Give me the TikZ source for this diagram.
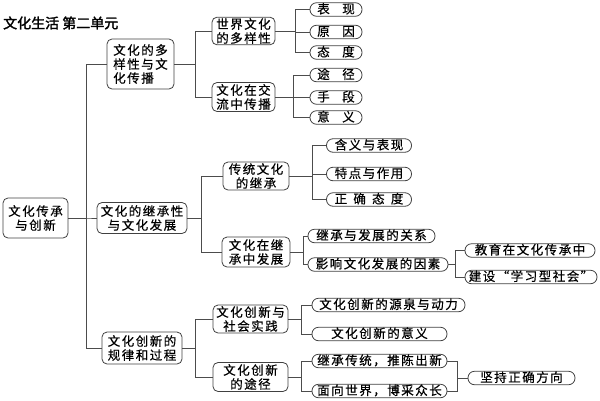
\documentclass[tikz,border=0pt]{standalone}
\usepackage{fontspec}
\newfontfamily\cjk[FakeBold=0.6,LetterSpace=12]{Noto Sans CJK SC}
\newfontfamily\cjkbold[FakeBold=2]{Noto Sans CJK SC}

\begin{document}
\begin{tikzpicture}[x=1pt,y=-1pt,
  every node/.append style={font=\cjk\fontsize{12.5}{14}\selectfont},
  box/.style={draw=black!75,line width=0.8pt,rounded corners=5pt,align=center,inner sep=1pt},
  leaf/.style={draw=black!75,line width=0.8pt,rounded corners=6.5pt,inner xsep=2pt,inner ysep=0pt,
    minimum height=13.5pt,text height=9.5pt,text depth=1.5pt},
  link/.style={draw=black!70,line width=0.8pt}]
  \useasboundingbox (0,0) rectangle (600,400);
  \node[font=\cjkbold\fontsize{14}{16}\selectfont,anchor=west,inner sep=0pt] (title) at (3,23) {文化生活 第二单元};

  \node[box,minimum width=65,minimum height=40] (root) at (35.5,218) {文化传承\\与创新};

  \node[box,align=left,minimum width=67,minimum height=50] (dyx) at (140.5,64) {文化的多\\样性与文\\化传播};
  \node[box,minimum width=90,minimum height=31] (jcx) at (142,218) {文化的继承性\\与文化发展};
  \node[box,minimum width=80,minimum height=32] (cxgl) at (142,348) {文化创新的\\规律和过程};

  \node[box,minimum width=63,minimum height=27] (sjwh) at (243.5,31) {世界文化\\的多样性};
  \node[box,minimum width=63,minimum height=29] (jlcb) at (243.5,97) {文化在交\\流中传播};
  \node[box,minimum width=66,minimum height=28] (ctwh) at (256,176) {传统文化\\的继承};
  \node[box,minimum width=68,minimum height=30] (jczfz) at (256,252) {文化在继\\承中发展};
  \node[box,minimum width=75,minimum height=28] (shsj) at (250.5,319) {文化创新与\\社会实践};
  \node[box,minimum width=75,minimum height=29] (cxtj) at (250.5,377) {文化创新\\的途径};

  \node[leaf,minimum width=52] (bx) at (336,9.5) {表\quad 现};
  \node[leaf,minimum width=52] (yy) at (336,32) {原\quad 因};
  \node[leaf,minimum width=52] (td) at (336,52.5) {态\quad 度};
  \node[leaf,minimum width=52] (tjing) at (336,75) {途\quad 径};
  \node[leaf,minimum width=52] (sd) at (336,97.5) {手\quad 段};
  \node[leaf,minimum width=52] (yyi) at (336,117.5) {意\quad 义};

  \node[leaf,minimum width=85] (hybx) at (369,145.5) {含义与表现};
  \node[leaf,minimum width=85] (tdzy) at (369,174) {特点与作用};
  \node[leaf,minimum width=85] (zqtd) at (369,199.5) {正\enspace 确\enspace 态\enspace 度};
  \node[leaf,minimum width=127] (gx) at (371.5,236) {继承与发展的关系};
  \node[leaf,minimum width=140] (yxys) at (378,264.5) {影响文化发展的因素};
  \node[leaf,minimum width=130] (jy) at (530,250.5) {教育在文化传承中};
  \node[leaf,minimum width=132] (xxsh) at (531,277) {建设“学习型社会”};

  \node[leaf,minimum width=153] (yqdl) at (388.5,305) {文化创新的源泉与动力};
  \node[leaf,minimum width=135] (cxyy) at (379.5,334) {文化创新的意义};
  \node[leaf,minimum width=135] (jcct) at (379.5,361) {继承传统，推陈出新};
  \node[leaf,minimum width=135] (mxsj) at (379.5,391) {面向世界，博采众长};
  \node[leaf,minimum width=107] (jczq) at (521.5,378) {坚持正确方向};

  \draw[link] (root.east) -- ++(18,0) |- (dyx.west);
  \draw[link] (root.east) -- ++(18,0) |- (jcx.west);
  \draw[link] (root.east) -- ++(18,0) |- (cxgl.west);

  \draw[link] (dyx.east) -- ++(21,0) |- (sjwh.west);
  \draw[link] (dyx.east) -- ++(21,0) |- (jlcb.west);
  \draw[link] (sjwh.east) -- ++(20,0) |- (bx.west);
  \draw[link] (sjwh.east) -- ++(20,0) |- (yy.west);
  \draw[link] (sjwh.east) -- ++(20,0) |- (td.west);
  \draw[link] (jlcb.east) -- ++(18,0) |- (tjing.west);
  \draw[link] (jlcb.east) -- ++(18,0) |- (sd.west);
  \draw[link] (jlcb.east) -- ++(18,0) |- (yyi.west);

  \draw[link] (jcx.east) -- ++(14,0) |- (ctwh.west);
  \draw[link] (jcx.east) -- ++(14,0) |- (jczfz.west);
  \draw[link] (ctwh.east) -- ++(23,0) |- (hybx.west);
  \draw[link] (ctwh.east) -- ++(23,0) |- (tdzy.west);
  \draw[link] (ctwh.east) -- ++(23,0) |- (zqtd.west);
  \draw[link] (jczfz.east) -- ++(13,0) |- (gx.west);
  \draw[link] (jczfz.east) -- ++(13,0) |- (yxys.west);
  \draw[link] (yxys.east) -- ++(7,0) |- (jy.west);
  \draw[link] (yxys.east) -- ++(7,0) |- (xxsh.west);

  \draw[link] (cxgl.east) -- ++(13,0) |- (shsj.west);
  \draw[link] (cxgl.east) -- ++(13,0) |- (cxtj.west);
  \draw[link] (shsj.east) -- ++(13,0) |- (yqdl.west);
  \draw[link] (shsj.east) -- ++(13,0) |- (cxyy.west);
  \draw[link] (cxtj.east) -- ++(13,0) |- (jcct.west);
  \draw[link] (cxtj.east) -- ++(13,0) |- (mxsj.west);
  \draw[link] (jcct.east) -- ++(10,0) |- (jczq.west);
  \draw[link] (mxsj.east) -- ++(10,0) |- (jczq.west);
\end{tikzpicture}
\end{document}
